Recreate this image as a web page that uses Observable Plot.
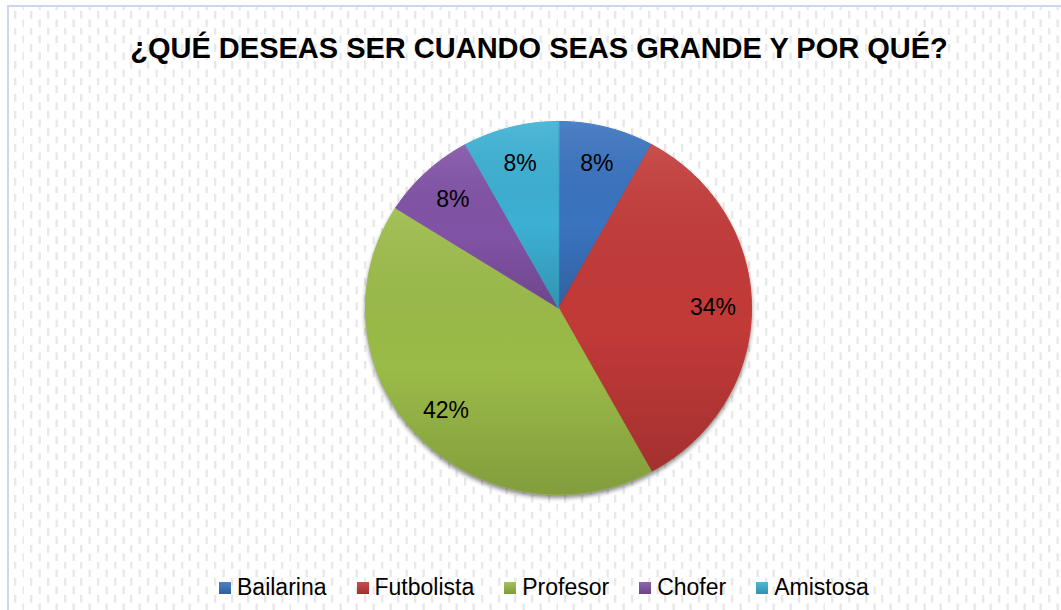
<!DOCTYPE html>
<html>
<head>
<meta charset="utf-8">
<script src="https://cdn.jsdelivr.net/npm/d3@7"></script>
<script src="https://cdn.jsdelivr.net/npm/@observablehq/plot@0.6"></script>
<style>
  html, body { margin: 0; padding: 0; background: #fff; overflow: hidden; }
  #wrap { position: relative; width: 1061px; height: 610px; overflow: hidden; font-family: "Liberation Sans", Arial, sans-serif; }
  #frame {
    position: absolute; left: 7px; top: 5px; width: 1100px; height: 700px;
    border-left: 2px solid #c6d9f1; border-top: 2px solid #c6d9f1;
    background-image: url("data:image/svg+xml;utf8,<svg xmlns='http://www.w3.org/2000/svg' width='16.7' height='16.7'><rect x='0' y='0' width='2.3' height='7.5' fill='%23e8e8e8'/><rect x='8.35' y='8.35' width='2.3' height='7.5' fill='%23e8e8e8'/></svg>");
    background-size: 16.7px 16.7px;
    background-position: 4.7px 3.9px;
  }
  #content { position: absolute; left: 0; top: 0; width: 1061px; height: 610px; }
  #title {
    height: 80px; box-sizing: border-box; padding-top: 33.5px;
    margin-left: 17px; width: 1044px; text-align: center;
    font-weight: bold; font-size: 29px; line-height: 29px; color: #000; white-space: nowrap;
  }
  #chart { height: 460px; }
  #chart svg { display: block; }
  #legend {
    height: 70px; box-sizing: border-box; padding-top: 25.5px; padding-left: 219px;
    display: flex; align-items: center; font-size: 23px; line-height: 23px; color: #000; white-space: nowrap;
  }
  .item { display: flex; align-items: center; margin-right: 30px; }
  .sw { width: 12px; height: 12px; margin-right: 6px; position: relative; }
  .sw::after { content: ""; position: absolute; inset: 0; background: linear-gradient(rgba(255,255,255,0.1), rgba(0,0,0,0.18)); }
</style>
</head>
<body>
<div id="wrap">
  <div id="frame"></div>
  <div id="content">
    <div id="title"></div>
    <div id="chart"></div>
    <div id="legend"></div>
  </div>
</div>
<script>
const titleText = "¿QUÉ DESEAS SER CUANDO SEAS GRANDE Y POR QUÉ?";
const categories = ["Bailarina", "Futbolista", "Profesor", "Chofer", "Amistosa"];
const percents = [8, 34, 42, 8, 8];
const colors = ["#3a73bf", "#c23a38", "#9bbb48", "#8153a6", "#3cb0d3"];

document.getElementById("title").textContent = titleText;

// Build slice polygons from the data (angles clockwise from 12 o'clock)
const slices = [];
const labels = [];
let acc = 0;
categories.forEach((c, i) => {
  const a0 = acc / 100 * 2 * Math.PI;
  acc += percents[i];
  const a1 = acc / 100 * 2 * Math.PI;
  const n = Math.max(4, Math.ceil((a1 - a0) / (Math.PI / 180)));
  slices.push({category: c, x: 0, y: 0});
  for (let k = 0; k <= n; k++) {
    const a = a0 + (a1 - a0) * k / n;
    slices.push({category: c, x: Math.sin(a), y: Math.cos(a)});
  }
  const m = (a0 + a1) / 2;
  labels.push({category: c, x: 0.8 * Math.sin(m), y: 0.8 * Math.cos(m), text: percents[i] + "%"});
});

const plot = Plot.plot({
  width: 1061,
  height: 460,
  marginLeft: 365,
  marginRight: 310,
  marginTop: 41,
  marginBottom: 46,
  x: {domain: [-1, 1], axis: null},
  y: {domain: [-1, 1], axis: null},
  color: {domain: categories, range: colors},
  style: {background: "transparent", overflow: "visible", fontFamily: "'Liberation Sans', Arial, sans-serif"},
  marks: [
    Plot.line(slices, {x: "x", y: "y", z: "category", fill: "category", stroke: "category", strokeWidth: 1, curve: "linear-closed"}),
    Plot.line(slices, {x: "x", y: "y", z: "category", fill: "url(#sliceShade)", stroke: "none", curve: "linear-closed"}),
    Plot.text(labels, {x: "x", y: "y", text: "text", fontSize: 23, fill: "#000"})
  ]
});

// gradient shading definition (style only)
const ns = "http://www.w3.org/2000/svg";
const defs = document.createElementNS(ns, "defs");
const grad = document.createElementNS(ns, "linearGradient");
grad.setAttribute("id", "sliceShade");
grad.setAttribute("x1", "0"); grad.setAttribute("y1", "0");
grad.setAttribute("x2", "0"); grad.setAttribute("y2", "1");
[["0", "#ffffff", "0.10"], ["0.55", "#000000", "0.0"], ["1", "#000000", "0.16"]].forEach(([o, c, op]) => {
  const s = document.createElementNS(ns, "stop");
  s.setAttribute("offset", o); s.setAttribute("stop-color", c); s.setAttribute("stop-opacity", op);
  grad.appendChild(s);
});
defs.appendChild(grad);
plot.insertBefore(defs, plot.firstChild);

const lineGs = plot.querySelectorAll('g[aria-label="line"]');
if (lineGs[0]) lineGs[0].style.filter = "drop-shadow(0px 3px 2px rgba(0,0,0,0.45))";
document.getElementById("chart").appendChild(plot);

// Legend
const legend = document.getElementById("legend");
categories.forEach((c, i) => {
  const item = document.createElement("div");
  item.className = "item";
  const sw = document.createElement("div");
  sw.className = "sw";
  sw.style.background = colors[i];
  const t = document.createElement("span");
  t.textContent = c;
  item.appendChild(sw);
  item.appendChild(t);
  legend.appendChild(item);
});
</script>
</body>
</html>
